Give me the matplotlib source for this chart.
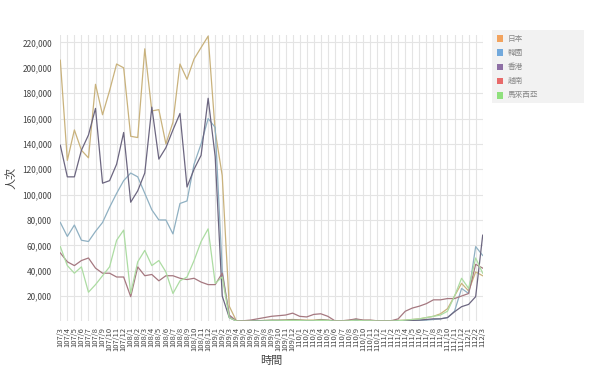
import matplotlib
matplotlib.use("Agg")
import matplotlib.pyplot as plt
from matplotlib.patches import Rectangle
from matplotlib.ticker import FuncFormatter

plt.rcParams['font.family'] = ['Noto Sans CJK TC', 'DejaVu Sans']

# 月份標籤 107/3 ~ 112/3
months = [f"{y}/{m}" for y in range(107, 113) for m in range(1, 13)]
months = months[months.index("107/3"):months.index("112/3") + 1]

# 人次 (千)
japan = [206, 127, 151, 135, 129, 187, 163, 182, 203, 200, 146, 145, 215, 166, 167, 140, 157, 203, 191, 207,
         216, 225, 150, 115, 12,
         0.5, 0.3, 0.3, 0.5, 0.8, 1, 1, 1.2, 1.5, 1.2, 1, 1, 1.5, 1, 0.5, 0.5, 0.8, 1.5, 0.8, 0.8,
         0.5, 0.5, 0.5, 0.8, 1, 1.5, 2, 3, 4, 6,
         10, 20, 30, 24, 39, 36]
korea = [78, 67, 76, 64, 63, 71, 78, 90, 101, 111, 117, 114, 101, 88, 80, 80, 69, 93, 95, 124,
         140, 160, 153, 40, 4,
         0.3, 0.2, 0.2, 0.3, 0.3, 0.5, 0.5, 0.5, 0.6, 0.5, 0.5, 0.5, 0.6, 0.5, 0.3, 0.3, 0.3, 0.5, 0.4, 0.4,
         0.3, 0.3, 0.3, 0.4, 0.5, 0.6, 0.8, 1, 1.5, 2,
         3, 8, 26, 22, 59, 52]
hongkong = [139, 114, 114, 135, 147, 168, 109, 111, 124, 149, 94, 103, 117, 169, 128, 137, 151, 164, 106, 120,
            131, 176, 130, 20, 3,
            0.3, 0.3, 0.3, 0.5, 0.6, 0.8, 0.8, 0.8, 1, 0.8, 0.6, 0.6, 1, 0.8, 0.4, 0.4, 0.5, 1.5, 0.6, 0.6,
            0.4, 0.4, 0.4, 0.5, 0.6, 0.8, 1, 1.5, 2, 2,
            3, 7.6, 11.6, 13.4, 19.5, 68]
vietnam = [54, 47, 44, 48, 50, 42, 38, 38, 35, 35, 19.5, 43, 36, 37, 32, 36, 36, 34, 33, 34,
           31, 29, 29, 38, 5,
           0.5, 0.5, 1, 2, 3, 4, 4.5, 5, 6.5, 4, 3.5, 5.5, 6, 4, 0.5, 0.5, 1, 2, 1, 1,
           0.5, 0.5, 0.5, 2, 8, 10.5, 12, 14, 17, 17,
           18, 18, 20, 22, 45, 42]
malaysia = [59, 44, 38, 43, 23, 29, 36, 43, 64, 72, 22, 47, 56, 44, 48, 39, 22, 32, 35, 48,
            63, 73, 30, 35, 3,
            0.3, 0.2, 0.2, 0.3, 0.4, 0.5, 0.5, 0.6, 0.8, 0.6, 0.5, 0.5, 0.8, 0.6, 0.3, 0.3, 0.4, 1, 0.5, 0.5,
            0.3, 0.3, 0.3, 0.5, 1, 1.5, 2, 3, 4, 5,
            8, 20, 34, 26, 50, 38]

names = ["日本", "韓國", "香港", "越南", "馬來西亞"]
series = [japan, korea, hongkong, vietnam, malaysia]
line_colors = ["#c9b27c", "#8fb0c2", "#6c6680", "#a57880", "#acdca2"]
legend_colors = ["#f2a35e", "#72a9dc", "#8e6fa5", "#e86a6a", "#8fe07d"]

fig = plt.figure(figsize=(6, 3.65), dpi=100)
ax = fig.add_axes([0.1005, 0.1195, 0.704, 0.785])

x = list(range(len(months)))
for vals, c in zip(series, line_colors):
    ax.plot(x, [v * 1000 for v in vals], color=c, lw=0.9)

ax.set_xlim(0, len(months) - 1)
ax.set_ylim(0, 226000)
ax.set_xticks(x)
ax.set_xticklabels(months, rotation=90, fontsize=5.5, color="#444444")
ax.set_yticks(range(20000, 220001, 20000))
ax.yaxis.set_major_formatter(FuncFormatter(lambda v, p: f"{int(v):,}"))
ax.tick_params(axis='y', labelsize=6, colors="#444444", length=0, pad=6)
ax.tick_params(axis='x', length=0, pad=4)
ax.grid(True, color="#e4e4e4", lw=0.8)
ax.set_axisbelow(True)
for s in ax.spines.values():
    s.set_visible(False)

ax.set_xlabel("時間", fontsize=8, color="#444444", labelpad=3)
ax.set_ylabel("人次", fontsize=8, color="#444444", labelpad=4)

# 圖例 (右上灰底方塊)
fig.patches.append(Rectangle((0.82, 0.718), 0.153, 0.2, transform=fig.transFigure,
                             facecolor="#f2f2f2", edgecolor="none"))
for k, (name, c) in enumerate(zip(names, legend_colors)):
    yy = 1 - (38.5 + k * 14.2) / 365
    fig.patches.append(Rectangle((496.5 / 600, yy - 3.3 / 365), 6.5 / 600, 6.6 / 365,
                                 transform=fig.transFigure, facecolor=c, edgecolor="none"))
    fig.text(507.5 / 600, yy, name, fontsize=5.5, color="#888888", va="center", ha="left")

fig.savefig("out.png", dpi=100, facecolor="white")
